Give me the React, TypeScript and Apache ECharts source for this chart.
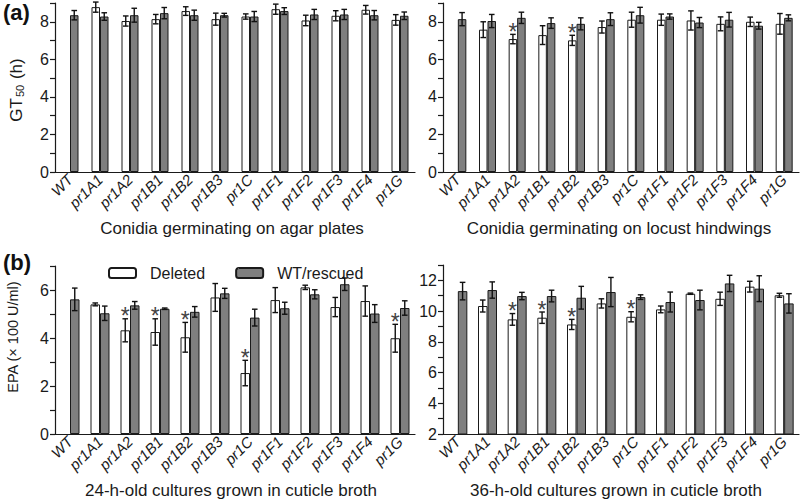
import React, { useEffect, useRef } from "react";
import * as echarts from "echarts";

const categories = ["WT", "pr1A1", "pr1A2", "pr1B1", "pr1B2", "pr1B3", "pr1C", "pr1F1", "pr1F2", "pr1F3", "pr1F4", "pr1G"];

// (a) left: GT50 on agar plates
const agarDel = [null, 8.78, 8.04, 8.14, 8.57, 8.14, 8.28, 8.67, 8.07, 8.32, 8.64, 8.1];
const agarDelErr = [null, 0.27, 0.27, 0.25, 0.23, 0.32, 0.14, 0.27, 0.28, 0.27, 0.23, 0.28];
const agarWt = [8.35, 8.28, 8.35, 8.46, 8.35, 8.35, 8.28, 8.57, 8.39, 8.39, 8.35, 8.32];
const agarWtErr = [0.25, 0.2, 0.37, 0.3, 0.27, 0.1, 0.27, 0.18, 0.27, 0.27, 0.25, 0.2];
const agarStar = [0, 0, 0, 0, 0, 0, 0, 0, 0, 0, 0, 0];

// (a) right: GT50 on locust hindwings
const hindDel = [null, 7.58, 7.08, 7.29, 7.01, 7.72, 8.11, 8.11, 8.07, 7.89, 8.0, 7.89];
const hindDelErr = [null, 0.42, 0.25, 0.5, 0.27, 0.32, 0.4, 0.3, 0.51, 0.37, 0.25, 0.55];
const hindWt = [8.14, 8.04, 8.21, 7.93, 7.89, 8.14, 8.35, 8.28, 7.96, 8.11, 7.79, 8.21];
const hindWtErr = [0.35, 0.35, 0.3, 0.28, 0.32, 0.34, 0.42, 0.14, 0.27, 0.39, 0.18, 0.16];
const hindStar = [0, 0, 1, 0, 1, 0, 0, 0, 0, 0, 0, 0];

// (b) left: EPA, 24-h cultures
const epa24Del = [null, 5.4, 4.32, 4.25, 4.03, 5.69, 2.54, 5.58, 6.11, 5.29, 5.54, 3.99];
const epa24DelErr = [null, 0.06, 0.48, 0.55, 0.62, 0.58, 0.53, 0.52, 0.09, 0.4, 0.63, 0.58];
const epa24Wt = [5.61, 5.03, 5.36, 5.22, 5.09, 5.86, 4.85, 5.24, 5.82, 6.24, 5.02, 5.25];
const epa24WtErr = [0.47, 0.3, 0.16, 0.03, 0.22, 0.21, 0.35, 0.25, 0.19, 0.26, 0.37, 0.3];
const epa24Star = [0, 0, 1, 1, 1, 0, 1, 0, 0, 0, 0, 1];

// (b) right: EPA, 36-h cultures
const epa36Del = [null, 10.33, 9.46, 9.57, 9.13, 10.5, 9.63, 10.11, 11.13, 10.8, 11.59, 11.03];
const epa36DelErr = [null, 0.39, 0.38, 0.37, 0.33, 0.3, 0.33, 0.22, 0.04, 0.43, 0.35, 0.13];
const epa36Wt = [11.3, 11.37, 10.98, 10.98, 10.87, 11.24, 10.91, 10.59, 10.72, 11.8, 11.46, 10.5];
const epa36WtErr = [0.57, 0.53, 0.24, 0.38, 0.74, 0.95, 0.15, 0.65, 0.64, 0.53, 0.84, 0.63];
const epa36Star = [0, 0, 1, 1, 1, 0, 1, 0, 0, 0, 0, 0];

const yMins = [0, 0, 0, 2];
const yMaxs = [9, 9, 7, 13];
const xTitles = [
  "Conidia germinating on agar plates",
  "Conidia germinating on locust hindwings",
  "24-h-old cultures grown in cuticle broth",
  "36-h-old cultures grown in cuticle broth",
];

const FONT = "Liberation Sans, Arial, sans-serif";
const INK = "#1a1a1a";
const GRAY = "#7f7f7f";

export default function App() {
  const ref = useRef<HTMLDivElement>(null);
  useEffect(() => {
    document.body.style.margin = "0";
    const chart = echarts.init(ref.current!, null, { renderer: "svg" });

    const panels = [
      { del: agarDel, delErr: agarDelErr, wt: agarWt, wtErr: agarWtErr, star: agarStar, bw: 8.5 },
      { del: hindDel, delErr: hindDelErr, wt: hindWt, wtErr: hindWtErr, star: hindStar, bw: 8.5 },
      { del: epa24Del, delErr: epa24DelErr, wt: epa24Wt, wtErr: epa24WtErr, star: epa24Star, bw: 9.5 },
      { del: epa36Del, delErr: epa36DelErr, wt: epa36Wt, wtErr: epa36WtErr, star: epa36Star, bw: 9.5 },
    ];
    const grids = [
      { left: 55, top: 3, width: 360, height: 169 },
      { left: 443, top: 3, width: 356, height: 169 },
      { left: 55, top: 266, width: 360, height: 168 },
      { left: 443, top: 265, width: 356, height: 169 },
    ];

    const xAxis = grids.map((_, i) => ({
      type: "category",
      gridIndex: i,
      data: categories,
      axisLine: { lineStyle: { color: INK, width: 1.2 } },
      axisTick: { alignWithLabel: true, length: 4, lineStyle: { color: INK, width: 1.2 } },
      axisLabel: { rotate: 45, fontSize: 15, fontStyle: "italic", color: INK, fontFamily: FONT, margin: 5, interval: 0 },
    }));
    const yAxis = grids.map((_, i) => ({
      type: "value",
      gridIndex: i,
      min: yMins[i],
      max: yMaxs[i],
      interval: 1,
      splitLine: { show: false },
      axisLine: { show: true, lineStyle: { color: INK, width: 1.2 } },
      axisTick: { show: true, length: 5, lineStyle: { color: INK, width: 1.2 } },
      axisLabel: {
        fontSize: 16,
        color: INK,
        fontFamily: FONT,
        margin: 6,
        formatter: (v: number) => (v % 2 === 0 ? String(v) : ""),
      },
    }));

    const series: any[] = [];
    panels.forEach((p, i) => {
      series.push({
        type: "bar",
        name: "Deleted",
        xAxisIndex: i,
        yAxisIndex: i,
        data: p.del,
        barWidth: p.bw,
        barGap: "0%",
        itemStyle: { color: "#fff", borderColor: INK, borderWidth: 1 },
      });
      series.push({
        type: "bar",
        name: "WT/rescued",
        xAxisIndex: i,
        yAxisIndex: i,
        data: p.wt,
        barWidth: p.bw,
        barGap: "0%",
        itemStyle: { color: GRAY, borderColor: INK, borderWidth: 1 },
      });
      const errData: any[] = [];
      categories.forEach((_, k) => {
        if (p.del[k] != null) errData.push([k, p.del[k], p.delErr[k], -1, p.star[k]]);
        errData.push([k, p.wt[k], p.wtErr[k], 1, 0]);
      });
      const bw = p.bw;
      series.push({
        type: "custom",
        name: "err",
        xAxisIndex: i,
        yAxisIndex: i,
        data: errData,
        z: 10,
        renderItem: (params: any, api: any) => {
          const k = api.value(0);
          const v = api.value(1);
          const e = api.value(2);
          const side = api.value(3);
          const star = api.value(4);
          const c = api.coord([k, v]);
          const x = c[0] + (side * bw) / 2;
          const yT = api.coord([k, v + e])[1];
          const yB = api.coord([k, v - e])[1];
          const st = { stroke: "#111", lineWidth: 1.4 };
          const cap = 2.8;
          const children: any[] = [
            { type: "line", shape: { x1: x, y1: yT, x2: x, y2: yB }, style: st },
            { type: "line", shape: { x1: x - cap, y1: yT, x2: x + cap, y2: yT }, style: st },
            { type: "line", shape: { x1: x - cap, y1: yB, x2: x + cap, y2: yB }, style: st },
          ];
          if (star) {
            children.push({
              type: "text",
              style: {
                text: "*",
                x: x,
                y: yT + 9,
                textAlign: "center",
                textVerticalAlign: "bottom",
                fontSize: 23,
                fontFamily: FONT,
                fill: "#444",
              },
            });
          }
          return { type: "group", children };
        },
      });
    });

    const titlePos = [
      [232, 228],
      [619, 228],
      [231, 490],
      [616, 490],
    ];
    const graphic: any[] = xTitles.map((t, i) => ({
      type: "text",
      x: titlePos[i][0],
      y: titlePos[i][1],
      style: { text: t, fontSize: 17, fontFamily: FONT, fill: INK, textAlign: "center", textVerticalAlign: "middle" },
    }));
    graphic.push({
      type: "text",
      x: 16,
      y: 90,
      rotation: Math.PI / 2,
      style: {
        text: "GT{s|50} (h)",
        fontSize: 17,
        fontFamily: FONT,
        fill: INK,
        textAlign: "center",
        textVerticalAlign: "middle",
        rich: { s: { fontSize: 11, fontFamily: FONT, fill: INK, padding: [8, 1, 0, 1] } },
      },
    });
    graphic.push({
      type: "text",
      x: 13,
      y: 337,
      rotation: Math.PI / 2,
      style: { text: "EPA (× 100 U/ml)", fontSize: 14.5, fontFamily: FONT, fill: INK, textAlign: "center", textVerticalAlign: "middle" },
    });
    graphic.push({
      type: "text",
      x: 3,
      y: 1,
      style: { text: "(a)", fontSize: 22, fontWeight: "bold", fontFamily: FONT, fill: "#111" },
    });
    graphic.push({
      type: "text",
      x: 3,
      y: 251,
      style: { text: "(b)", fontSize: 22, fontWeight: "bold", fontFamily: FONT, fill: "#111" },
    });

    chart.setOption({
      animation: false,
      backgroundColor: "#fff",
      textStyle: { fontFamily: FONT },
      legend: {
        data: ["Deleted", "WT/rescued"],
        left: 103,
        top: 260,
        itemWidth: 27,
        itemHeight: 10,
        itemGap: 30,
        textStyle: { fontSize: 16, color: INK, fontFamily: FONT, padding: [0, 0, 0, 9] },
      },
      grid: grids,
      xAxis,
      yAxis,
      series,
      graphic,
    });
    return () => chart.dispose();
  }, []);
  return <div ref={ref} style={{ width: 800, height: 503 }} />;
}
